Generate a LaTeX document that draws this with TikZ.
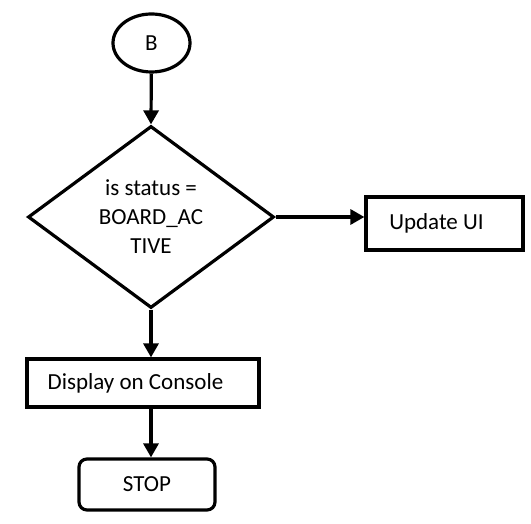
\documentclass[tikz,border=0pt]{standalone}
\usepackage{fontspec}
\setmainfont{Carlito}
\usetikzlibrary{shapes.geometric,arrows.meta}
\begin{document}
\begin{tikzpicture}[x=1pt,y=1pt,
  every node/.style={font=\fontsize{23}{29}\selectfont, inner sep=0pt},
  shp/.style={draw, line width=3.2pt},
  box/.style={shp, rectangle},
  flow/.style={line width=3.2pt, -{Triangle[length=14pt,width=15pt]}}]
\useasboundingbox (0,0) rectangle (531,524);
\node[shp, ellipse, minimum width=77, minimum height=58] (b) at (151.5,481) {B};
\node[shp, diamond, minimum width=246, minimum height=182, align=center] (d) at (151,307)
  {is status =\\BOARD\_AC\\TIVE};
\node[box, minimum width=157, minimum height=53] (u) at (444.5,300.5) {\hspace*{-16pt}Update UI};
\node[box, minimum width=232, minimum height=48] (c) at (143,141) {\hspace*{-15pt}Display on Console};
\node[box, rounded corners=8pt, minimum width=136, minimum height=51] (s) at (147,39.5) {STOP};
\draw[flow] (b) -- (d.north);
\draw[flow] (d.east) -- (d.east -| u.west);
\draw[flow] (d.south) -- (d.south |- c.north);
\draw[flow] (c.south -| d.south) -- (d.south |- s.north);
\end{tikzpicture}
\end{document}
